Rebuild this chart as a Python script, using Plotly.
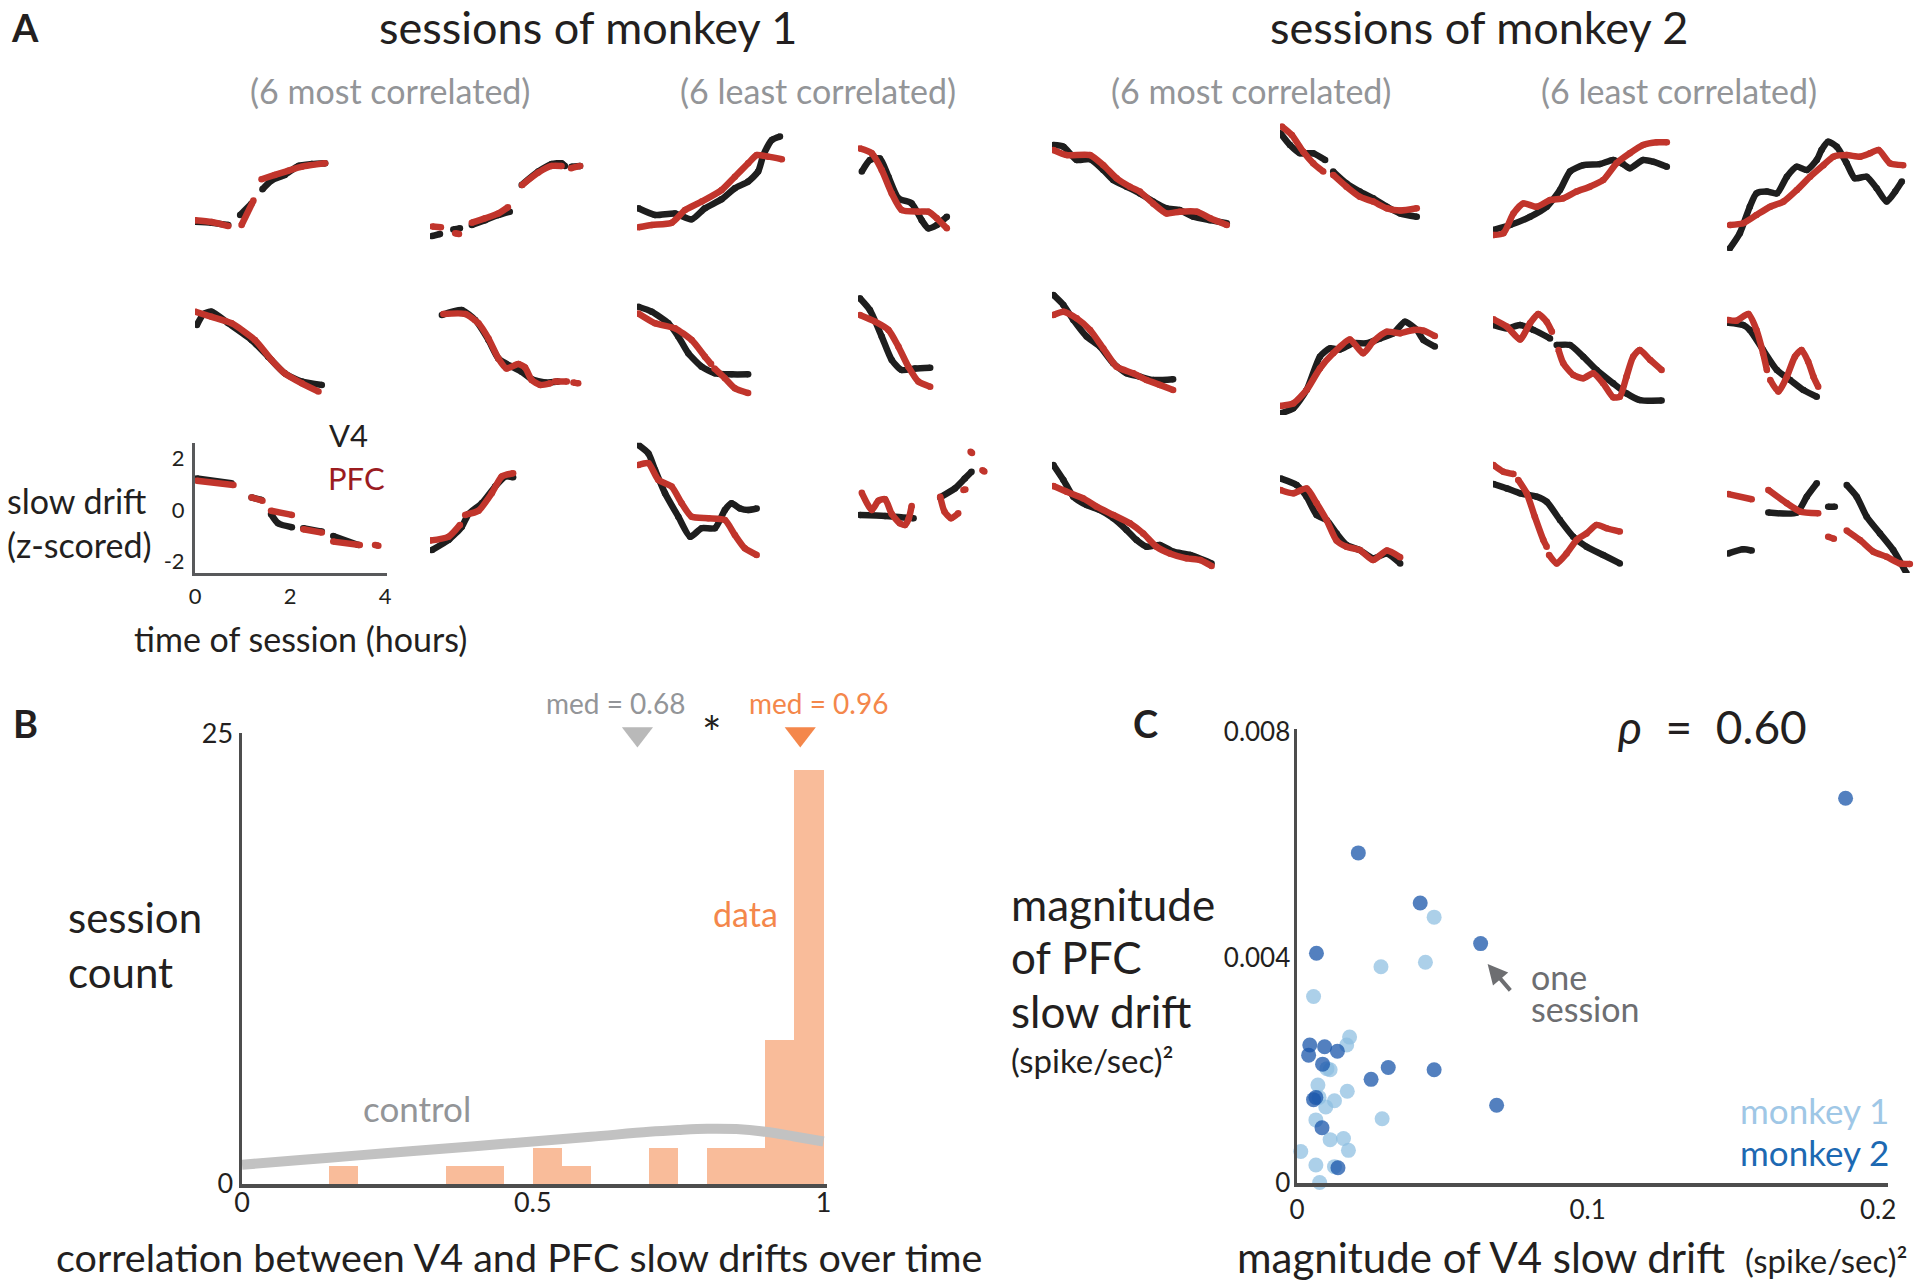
import plotly.graph_objects as go

W, H = 1920, 1283
FONT = "Lato"

# ---------------- Panel A data (time in hours, z-scored slow drift) ----------------
# row 1
a11_v4_t = [0, 0.35, 0.70, None, 0.95, 1.19, None, 1.42, 1.61, 1.89, 2.18, 2.46, 2.74]
a11_v4_z = [-1.31, -1.35, -1.44, None, -1.05, -0.60, None, -0.05, 0.29, 0.51, 0.86, 0.93, 0.96]
a11_pfc_t = [0, 0.35, 0.70, None, 0.98, 1.23, None, 1.40, 1.68, 1.96, 2.25, 2.74]
a11_pfc_z = [-1.25, -1.32, -1.48, None, -1.44, -0.49, None, 0.34, 0.51, 0.67, 0.83, 0.96]

a12_v4_t = [0.04, 0.21, None, 0.49, 0.63, None, 0.88, 1.16, 1.44, 1.68, None, 1.93, 2.28, 2.56, 2.77, 2.84, None, 2.98, 3.16]
a12_v4_z = [-1.87, -1.79, None, -1.61, -1.57, None, -1.44, -1.25, -1.05, -0.92, None, 0.12, 0.64, 0.93, 0.96, 0.86, None, 0.83, 0.86]
a12_pfc_t = [0.05, 0.23, None, 0.53, 0.61, None, 0.88, 1.16, 1.44, 1.64, None, 1.94, 2.28, 2.56, 2.77, None, 2.97, 3.16]
a12_pfc_z = [-1.50, -1.53, None, -1.76, -1.79, None, -1.35, -1.18, -0.99, -0.75, None, 0.12, 0.60, 0.86, 0.86, None, 0.77, 0.86]

a13_v4_t = [0.03, 0.38, 0.80, 1.15, 1.43, 1.78, 2.06, 2.34, 2.55, 2.66, 2.84, 3.01]
a13_v4_z = [-0.79, -1.05, -0.99, -1.22, -0.79, -0.44, -0.01, 0.25, 0.64, 1.28, 1.87, 2.00]
a13_pfc_t = [0.03, 0.31, 0.73, 1.01, 1.36, 1.78, 2.06, 2.34, 2.52, 2.76, 3.05]
a13_pfc_z = [-1.53, -1.44, -1.35, -0.86, -0.53, -0.08, 0.44, 0.96, 1.28, 1.22, 1.12]

a14_v4_t = [0.08, 0.25, 0.46, 0.64, 0.85, 1.13, 1.34, 1.48, 1.66, 1.87]
a14_v4_z = [0.64, 1.09, 1.15, 0.44, -0.40, -0.60, -1.25, -1.57, -1.44, -1.12]
a14_pfc_t = [0.04, 0.29, 0.50, 0.71, 0.92, 1.27, 1.48, 1.66, 1.87]
a14_pfc_z = [1.54, 1.35, 0.70, -0.21, -0.86, -0.92, -0.92, -1.18, -1.57]

a15_v4_t = [0.03, 0.24, 0.52, 0.80, 1.08, 1.29, 1.57, 1.85, 2.13, 2.41, 2.69, 2.98, 3.33, 3.68]
a15_v4_z = [1.67, 1.61, 1.09, 1.12, 0.70, 0.31, 0.05, -0.21, -0.53, -0.79, -0.86, -1.12, -1.25, -1.37]
a15_pfc_t = [0.03, 0.31, 0.80, 1.08, 1.36, 1.64, 1.85, 2.13, 2.41, 2.69, 3.05, 3.33, 3.68]
a15_pfc_z = [1.48, 1.28, 1.28, 0.89, 0.38, 0.05, -0.14, -0.60, -0.99, -0.92, -0.92, -1.18, -1.44]

a16_v4_t = [0.01, 0.21, 0.42, 0.70, 0.95, None, 1.12, 1.40, 1.68, 1.96, 2.25, 2.53, 2.88]
a16_v4_z = [2.13, 1.67, 1.35, 1.35, 1.09, None, 0.64, 0.18, -0.14, -0.40, -0.73, -0.99, -1.12]
a16_pfc_t = [0.04, 0.25, 0.49, 0.70, 0.91, None, 1.12, 1.40, 1.68, 1.96, 2.25, 2.53, 2.88]
a16_pfc_z = [2.39, 2.06, 1.41, 0.96, 0.64, None, 0.51, 0.05, -0.34, -0.53, -0.79, -0.88, -0.79]

a17_v4_t = [0.01, 0.36, 0.78, 1.13, 1.41, 1.62, 1.90, 2.25, 2.53, 2.74, 2.88, 3.16, 3.38, 3.66]
a17_v4_z = [-1.63, -1.44, -1.12, -0.73, -0.08, 0.64, 0.89, 0.93, 1.09, 0.93, 0.77, 1.09, 1.02, 0.83]
a17_pfc_t = [0.01, 0.22, 0.43, 0.64, 0.92, 1.20, 1.48, 1.76, 2.04, 2.32, 2.60, 2.88, 3.16, 3.45, 3.66]
a17_pfc_z = [-1.83, -1.76, -0.99, -0.60, -0.73, -0.47, -0.40, -0.14, 0.05, 0.31, 0.96, 1.35, 1.67, 1.78, 1.78]

a18_v4_t = [0.06, 0.27, 0.48, 0.62, 0.84, 1.05, 1.26, 1.47, 1.68, 1.89, 1.99, 2.13, 2.31, 2.52, 2.69, 2.94, 3.15, 3.36, 3.54, 3.68]
a18_v4_z = [-2.35, -1.76, -0.73, -0.21, -0.14, -0.21, 0.44, 0.83, 0.70, 1.09, 1.48, 1.80, 1.61, 0.96, 0.38, 0.44, -0.01, -0.53, -0.14, 0.25]
a18_pfc_t = [0.06, 0.34, 0.62, 0.91, 1.19, 1.47, 1.75, 2.03, 2.24, 2.52, 2.80, 3.01, 3.19, 3.43, 3.71]
a18_pfc_z = [-1.44, -1.37, -1.05, -0.73, -0.53, -0.08, 0.44, 0.89, 1.22, 1.28, 1.22, 1.35, 1.48, 0.96, 0.89]

# row 2
a21_v4_t = [0.04, 0.18, 0.35, 0.70, 1.19, 1.54, 1.89, 2.25, 2.67]
a21_v4_z = [1.05, 1.48, 1.57, 1.12, 0.47, -0.18, -0.83, -1.15, -1.28]
a21_pfc_t = [0, 0.35, 0.77, 1.26, 1.61, 1.89, 2.25, 2.60]
a21_pfc_z = [1.57, 1.37, 1.12, 0.47, -0.31, -0.83, -1.22, -1.54]

a22_v4_t = [0.25, 0.67, 0.95, 1.23, 1.44, 1.72, 1.93, 2.14, 2.42, 2.70]
a22_v4_z = [1.44, 1.63, 1.25, 0.47, -0.25, -0.57, -0.77, -1.06, -1.19, -1.15]
a22_pfc_t = [0.28, 0.74, 1.02, 1.23, 1.44, 1.61, 1.86, 2.00, 2.14, 2.32, 2.53, None, 2.63, 2.88, None, 3.02, 3.12]
a22_pfc_z = [1.48, 1.48, 1.12, 0.53, -0.25, -0.64, -0.47, -0.60, -1.09, -1.28, -1.22, None, -1.15, -1.15, None, -1.19, -1.22]

a23_v4_t = [0.03, 0.31, 0.66, 0.87, 1.08, 1.36, 1.64, 1.99, 2.34]
a23_v4_z = [1.76, 1.57, 1.12, 0.60, -0.05, -0.57, -0.83, -0.87, -0.87]
a23_pfc_t = [0.03, 0.38, 0.80, 1.15, 1.43, 1.56, None, 1.63, 1.85, 2.06, 2.34]
a23_pfc_z = [1.50, 1.12, 0.92, 0.47, -0.18, -0.47, None, -0.64, -1.02, -1.41, -1.60]

a24_v4_t = [0.04, 0.25, 0.50, 0.71, 0.92, 1.20, 1.52]
a24_v4_z = [2.09, 1.63, 0.60, -0.31, -0.70, -0.64, -0.61]
a24_pfc_t = [0.04, 0.36, 0.64, 0.85, 1.06, 1.27, 1.52]
a24_pfc_z = [1.44, 1.18, 0.86, 0.21, -0.57, -1.15, -1.35]

a25_v4_t = [0.03, 0.24, 0.45, 0.73, 1.01, 1.29, 1.57, 1.85, 2.13, 2.55]
a25_v4_z = [2.22, 1.83, 1.25, 0.60, 0.21, -0.44, -0.83, -0.96, -1.09, -1.06]
a25_pfc_t = [0.03, 0.24, 0.52, 0.80, 1.08, 1.36, 1.71, 1.99, 2.27, 2.55]
a25_pfc_z = [1.44, 1.57, 1.31, 0.86, 0.14, -0.57, -0.83, -1.09, -1.28, -1.48]

a26_v4_t = [0.01, 0.28, 0.56, 0.84, 1.05, 1.26, 1.54, 1.82, 2.11, 2.39, 2.63, 2.88, 3.02, 3.26]
a26_v4_z = [-2.39, -2.19, -1.48, -0.18, 0.14, 0.10, 0.34, 0.34, 0.53, 0.73, 1.18, 0.86, 0.47, 0.21]
a26_pfc_t = [0.01, 0.28, 0.56, 0.84, 1.12, 1.47, 1.75, 1.96, 2.25, 2.53, 2.81, 3.02, 3.26]
a26_pfc_z = [-2.10, -2.00, -1.48, -0.64, -0.05, 0.49, -0.05, 0.40, 0.79, 0.73, 0.86, 0.83, 0.62]

a27_v4_t = [0.01, 0.29, 0.57, 0.85, 1.20, None, 1.34, 1.62, 1.90, 2.18, 2.53, 2.81, 3.09, 3.55]
a27_v4_z = [1.05, 0.92, 1.05, 0.86, 0.53, None, 0.27, 0.27, -0.18, -0.70, -1.22, -1.61, -1.87, -1.89]
a27_pfc_t = [0.01, 0.29, 0.57, 0.78, 0.95, 1.13, 1.24, None, 1.38, 1.48, 1.69, 1.90, 2.11, 2.32, 2.53, 2.67, 2.81, 2.95, 3.09, 3.31, 3.55]
a27_pfc_z = [1.27, 0.99, 0.49, 1.12, 1.48, 1.18, 0.79, None, 0.08, -0.44, -0.89, -1.02, -0.83, -1.22, -1.76, -1.74, -0.96, -0.18, 0.08, -0.31, -0.70]

a28_v4_t = [0.03, 0.34, 0.48, 0.76, 1.05, 1.33, 1.61, 1.89]
a28_v4_z = [1.14, 1.05, 0.86, 0.08, -0.70, -1.09, -1.48, -1.74]
a28_pfc_t = [0.01, 0.20, 0.45, 0.62, 0.76, 0.84, None, 0.91, 1.08, 1.26, 1.43, 1.57, 1.71, 1.82, 1.92]
a28_pfc_z = [1.25, 1.22, 1.48, 0.86, -0.05, -0.70, None, -1.09, -1.54, -0.96, -0.18, 0.08, -0.38, -0.96, -1.35]

# row 3
a31_v4_t = [0.04, 0.77, None, 1.19, 1.40, None, 1.60, 1.75, 2.04, None, 2.28, 2.67, None, 2.91, 3.44]
a31_v4_z = [1.23, 1.04, None, 0.49, 0.39, None, -0.16, -0.52, -0.67, None, -0.71, -0.84, None, -1.01, -1.36]
a31_pfc_t = [0.04, 0.81, None, 1.19, 1.42, None, 1.60, 2.04, None, 2.28, 2.67, None, 2.91, 3.47, None, 3.79, 3.86]
a31_pfc_z = [1.14, 0.97, None, 0.49, 0.36, None, -0.03, -0.19, None, -0.75, -0.88, None, -1.23, -1.36, None, -1.36, -1.39]

a32_v4_t = [0.04, 0.39, 0.67, 0.81, 1.09, 1.37, 1.58, 1.75]
a32_v4_z = [-1.56, -1.17, -0.65, -0.16, 0.26, 0.91, 1.30, 1.27]
a32_pfc_t = [0, 0.39, 0.63, None, 0.74, 1.02, 1.30, 1.51, 1.75]
a32_pfc_z = [-1.19, -1.04, -0.58, None, -0.19, -0.03, 0.65, 1.30, 1.43]

a33_v4_t = [0.03, 0.24, 0.38, 0.59, 0.87, 1.12, 1.36, 1.64, 1.85, 1.99, 2.17, 2.34, 2.52]
a33_v4_z = [2.53, 2.20, 1.56, 0.65, -0.26, -1.04, -0.71, -0.71, 0.00, 0.26, 0.06, 0.00, 0.06]
a33_pfc_t = [0.03, 0.24, 0.45, 0.73, 0.94, 1.15, 1.50, 1.85, 2.06, 2.27, 2.52]
a33_pfc_z = [1.75, 1.82, 1.17, 0.91, 0.26, -0.26, -0.32, -0.39, -0.97, -1.49, -1.75]

a34_v4_t = [0.04, 0.57, 1.17, None, 1.73, 2.04, 2.25, 2.39]
a34_v4_z = [-0.19, -0.23, -0.32, None, 0.49, 0.84, 1.23, 1.49]
a34_pfc_t = [0.08, 0.29, 0.43, 0.57, 0.71, 0.88, 0.99, 1.07, 1.13, None, 1.73, 1.82, 1.96, 2.11, None, 2.22, 2.26, None, 2.37, 2.40, None, 2.62, 2.66]
a34_pfc_z = [0.67, 0.00, 0.36, 0.42, -0.16, -0.52, -0.58, -0.32, 0.16, None, 0.52, -0.06, -0.32, -0.13, None, 0.78, 0.80, None, 2.27, 2.22, None, 1.55, 1.50]

a35_v4_t = [0.03, 0.24, 0.45, 0.73, 1.01, 1.29, 1.57, 1.78, 1.99, 2.27, 2.55, 2.91, 3.36]
a35_v4_z = [1.75, 1.17, 0.52, 0.19, 0.00, -0.32, -0.78, -1.17, -1.43, -1.36, -1.62, -1.75, -2.08]
a35_pfc_t = [0.03, 0.31, 0.66, 0.94, 1.29, 1.64, 1.92, 2.20, 2.48, 2.83, 3.12, 3.36]
a35_pfc_z = [0.93, 0.71, 0.45, 0.13, -0.19, -0.52, -0.91, -1.43, -1.69, -1.88, -1.95, -2.18]

a36_v4_t = [0.01, 0.35, 0.56, 0.77, 0.98, 1.19, 1.40, 1.68, 1.96, 2.25, 2.53]
a36_v4_z = [1.23, 0.97, 0.52, -0.19, -0.39, -0.91, -1.36, -1.56, -1.88, -1.69, -2.08]
a36_pfc_t = [0.01, 0.28, 0.56, 0.77, 0.98, 1.19, 1.40, 1.68, 1.96, 2.25, 2.53]
a36_pfc_z = [0.78, 0.65, 0.84, 0.26, -0.39, -1.19, -1.43, -1.56, -1.95, -1.58, -1.84]

a37_v4_t = [0.01, 0.29, 0.57, 0.92, 1.13, 1.41, 1.69, 1.97, 2.32, 2.67]
a37_v4_z = [1.01, 0.84, 0.65, 0.52, 0.32, -0.39, -1.04, -1.43, -1.75, -2.08]
a37_pfc_t = [0.01, 0.22, 0.43, None, 0.53, 0.71, 0.88, 1.06, 1.13, None, 1.18, 1.34, 1.55, 1.76, 1.97, 2.18, 2.39, 2.67]
a37_pfc_z = [1.75, 1.49, 1.40, None, 1.17, 0.65, -0.26, -1.17, -1.43, None, -1.75, -2.08, -1.69, -1.17, -0.91, -0.58, -0.71, -0.84]

a38_v4_t = [0.03, 0.34, 0.52, None, 0.87, 1.47, 1.68, 1.89, None, 2.13, 2.27, None, 2.52, 2.73, 2.94, 3.22, 3.50, 3.78]
a38_v4_z = [-1.69, -1.53, -1.58, None, -0.10, -0.10, 0.52, 1.04, None, 0.13, 0.13, None, 0.97, 0.52, -0.26, -0.91, -1.56, -2.46]
a38_pfc_t = [0.03, 0.52, None, 0.87, 1.26, 1.54, 1.92, None, 2.13, 2.25, None, 2.52, 2.80, 3.08, 3.36, 3.64, 3.85]
a38_pfc_z = [0.62, 0.42, None, 0.78, 0.26, -0.06, -0.13, None, -1.04, -1.12, None, -0.80, -1.17, -1.62, -1.82, -2.08, -2.10]

# ---------------- Panel B data ----------------
hist_bin_centers = [0.175, 0.375, 0.425, 0.525, 0.575, 0.725, 0.825, 0.875, 0.925, 0.975]
hist_counts = [1, 1, 1, 2, 1, 2, 2, 2, 8, 23]
hist_bin_width = 0.05
control_x = [0, 0.1, 0.2, 0.3, 0.4, 0.5, 0.6, 0.7, 0.75, 0.8, 0.85, 0.9, 0.95, 1.0]
control_y = [1.07, 1.33, 1.59, 1.85, 2.10, 2.36, 2.62, 2.90, 3.00, 3.07, 3.05, 2.90, 2.64, 2.36]
median_control = 0.68
median_data = 0.96

# ---------------- Panel C data ----------------
m1_v4 = [0.0472, 0.0289, 0.0442, 0.0057, 0.0181, 0.0171, 0.0114, 0.0103, 0.0072, 0.0173, 0.0076,
         0.0129, 0.0099, 0.0065, 0.0293, 0.0114, 0.0160, 0.0177, 0.0013, 0.0065, 0.0129, 0.0078]
m1_pfc = [0.00472, 0.00384, 0.00392, 0.00331, 0.00259, 0.00245, 0.00201, 0.00203, 0.00174, 0.00163, 0.00152,
          0.00146, 0.00135, 0.00112, 0.00114, 0.00077, 0.00079, 0.00058, 0.00056, 0.00032, 0.00029, 0.00001]
m2_v4 = [0.1888, 0.0211, 0.0424, 0.0632, 0.0067, 0.0044, 0.0095, 0.0139, 0.0040, 0.0088,
         0.0314, 0.0472, 0.0255, 0.0057, 0.0065, 0.0086, 0.0687, 0.0141]
m2_pfc = [0.00683, 0.00586, 0.00497, 0.00425, 0.00408, 0.00245, 0.00242, 0.00234, 0.00227, 0.00211,
          0.00205, 0.00201, 0.00184, 0.00148, 0.00152, 0.00098, 0.00138, 0.00027]

# ---------------- styling / layout constants ----------------
BLACK = "#1e1e1e"
RED = "#c1352c"
TXT = "#231f20"
GRAY_TXT = "#939598"
ORANGE = "#f4874b"
BAR = "#f9bc9a"

COL_X0 = [195, 430, 637, 858, 1052, 1280, 1493, 1727]
ROW_Z0 = [188, 352, 510]
PX_PER_HOUR = 47.5
PX_PER_Z = 25.7
T_RANGE = [0, 4.05]
Z_RANGE = [-2.45, 2.62]

grid = [
    [(a11_v4_t, a11_v4_z, a11_pfc_t, a11_pfc_z), (a12_v4_t, a12_v4_z, a12_pfc_t, a12_pfc_z),
     (a13_v4_t, a13_v4_z, a13_pfc_t, a13_pfc_z), (a14_v4_t, a14_v4_z, a14_pfc_t, a14_pfc_z),
     (a15_v4_t, a15_v4_z, a15_pfc_t, a15_pfc_z), (a16_v4_t, a16_v4_z, a16_pfc_t, a16_pfc_z),
     (a17_v4_t, a17_v4_z, a17_pfc_t, a17_pfc_z), (a18_v4_t, a18_v4_z, a18_pfc_t, a18_pfc_z)],
    [(a21_v4_t, a21_v4_z, a21_pfc_t, a21_pfc_z), (a22_v4_t, a22_v4_z, a22_pfc_t, a22_pfc_z),
     (a23_v4_t, a23_v4_z, a23_pfc_t, a23_pfc_z), (a24_v4_t, a24_v4_z, a24_pfc_t, a24_pfc_z),
     (a25_v4_t, a25_v4_z, a25_pfc_t, a25_pfc_z), (a26_v4_t, a26_v4_z, a26_pfc_t, a26_pfc_z),
     (a27_v4_t, a27_v4_z, a27_pfc_t, a27_pfc_z), (a28_v4_t, a28_v4_z, a28_pfc_t, a28_pfc_z)],
    [(a31_v4_t, a31_v4_z, a31_pfc_t, a31_pfc_z), (a32_v4_t, a32_v4_z, a32_pfc_t, a32_pfc_z),
     (a33_v4_t, a33_v4_z, a33_pfc_t, a33_pfc_z), (a34_v4_t, a34_v4_z, a34_pfc_t, a34_pfc_z),
     (a35_v4_t, a35_v4_z, a35_pfc_t, a35_pfc_z), (a36_v4_t, a36_v4_z, a36_pfc_t, a36_pfc_z),
     (a37_v4_t, a37_v4_z, a37_pfc_t, a37_pfc_z), (a38_v4_t, a38_v4_z, a38_pfc_t, a38_pfc_z)],
]


def fx(px):
    return px / W


def fy(py):
    return 1 - py / H


fig = go.Figure()
axes = {}

k = 0
for r in range(3):
    for c in range(8):
        k += 1
        v4_t, v4_z, pfc_t, pfc_z = grid[r][c]
        xn = "x" if k == 1 else f"x{k}"
        yn = "y" if k == 1 else f"y{k}"
        xk = "xaxis" if k == 1 else f"xaxis{k}"
        yk = "yaxis" if k == 1 else f"yaxis{k}"
        x0 = COL_X0[c]
        x1 = x0 + (T_RANGE[1] - T_RANGE[0]) * PX_PER_HOUR
        ytop = ROW_Z0[r] - Z_RANGE[1] * PX_PER_Z
        ybot = ROW_Z0[r] - Z_RANGE[0] * PX_PER_Z
        example = (r == 2 and c == 0)
        axes[xk] = dict(domain=[fx(x0), fx(x1)], range=T_RANGE, anchor=yn, automargin=False,
                        showgrid=False, zeroline=False, fixedrange=True)
        axes[yk] = dict(domain=[fy(ybot), fy(ytop)], range=Z_RANGE, anchor=xn, automargin=False,
                        showgrid=False, zeroline=False, fixedrange=True)
        if example:
            axes[xk].update(showline=True, linecolor="#58595b", linewidth=3,
                            tickvals=[0, 2, 4], ticktext=["0", "2", "4"], ticks="",
                            tickfont=dict(family=FONT, size=22, color=TXT), ticklabelstandoff=2)
            axes[yk].update(showline=True, linecolor="#58595b", linewidth=3,
                            tickvals=[-2, 0, 2], ticktext=["-2", "0", "2"], ticks="",
                            tickfont=dict(family=FONT, size=22, color=TXT), ticklabelstandoff=3)
        else:
            axes[xk].update(visible=False)
            axes[yk].update(visible=False)
        fig.add_trace(go.Scatter(x=v4_t, y=v4_z, xaxis=xn, yaxis=yn, mode="lines+markers",
                                 line=dict(color=BLACK, width=6.5, shape="spline", smoothing=0.6),
                                 marker=dict(color=BLACK, size=6.5, line=dict(width=0)),
                                 connectgaps=False, hoverinfo="skip"))
        fig.add_trace(go.Scatter(x=pfc_t, y=pfc_z, xaxis=xn, yaxis=yn, mode="lines+markers",
                                 line=dict(color=RED, width=6.5, shape="spline", smoothing=0.6),
                                 marker=dict(color=RED, size=6.5, line=dict(width=0)),
                                 connectgaps=False, hoverinfo="skip"))

# ---------------- Panel B ----------------
kb = 25
axes[f"xaxis{kb}"] = dict(domain=[fx(242), fx(827)], range=[0, 1.006], anchor=f"y{kb}", automargin=False,
                          showline=True, linecolor="#4d4d4d", linewidth=3.5, showgrid=False, zeroline=False,
                          tickvals=[0, 0.5, 1], ticktext=["0", "0.5", "1"], ticks="",
                          tickfont=dict(family=FONT, size=27, color=TXT), ticklabelstandoff=-8)
axes[f"yaxis{kb}"] = dict(domain=[fy(1184), fy(733)], range=[0, 25.05], anchor=f"x{kb}", automargin=False,
                          showline=True, linecolor="#4d4d4d", linewidth=3.5, showgrid=False, zeroline=False,
                          tickvals=[0, 25], ticktext=["0", "25"], ticks="",
                          tickfont=dict(family=FONT, size=27, color=TXT), ticklabelstandoff=0)
fig.add_trace(go.Bar(x=hist_bin_centers, y=hist_counts, width=hist_bin_width,
                     marker=dict(color=BAR, line=dict(width=0)), xaxis=f"x{kb}", yaxis=f"y{kb}",
                     hoverinfo="skip"))
fig.add_trace(go.Scatter(x=control_x, y=control_y, mode="lines", xaxis=f"x{kb}", yaxis=f"y{kb}",
                         line=dict(color="#c2c2c2", width=10, shape="spline"), hoverinfo="skip"))
fig.add_trace(go.Scatter(x=[median_control, median_data], y=[25.0, 25.0], mode="markers",
                         xaxis=f"x{kb}", yaxis=f"y{kb}",
                         marker=dict(symbol="triangle-down", size=27, color=["#b9b9b9", ORANGE]),
                         cliponaxis=False, hoverinfo="skip"))

# ---------------- Panel C ----------------
kc = 26
axes[f"xaxis{kc}"] = dict(domain=[fx(1297), fx(1888)], range=[0, 0.2034], anchor=f"y{kc}", automargin=False,
                          showline=True, linecolor="#4d4d4d", linewidth=3.5, showgrid=False, zeroline=False,
                          tickvals=[0, 0.1, 0.2], ticktext=["0", "0.1", "0.2"], ticks="",
                          tickfont=dict(family=FONT, size=26, color=TXT), ticklabelstandoff=1)
axes[f"yaxis{kc}"] = dict(domain=[fy(1183), fy(729)], range=[0, 0.00806], anchor=f"x{kc}", automargin=False,
                          showline=True, linecolor="#4d4d4d", linewidth=3.5, showgrid=False, zeroline=False,
                          tickvals=[0, 0.004, 0.008], ticktext=["0", "0.004", "0.008"], ticks="",
                          tickfont=dict(family=FONT, size=26, color=TXT), ticklabelstandoff=-2)
fig.add_trace(go.Scatter(x=m1_v4, y=m1_pfc, mode="markers", xaxis=f"x{kc}", yaxis=f"y{kc}",
                         marker=dict(size=15, color="rgba(140,190,225,0.72)", line=dict(width=0)),
                         cliponaxis=False, hoverinfo="skip"))
fig.add_trace(go.Scatter(x=m2_v4, y=m2_pfc, mode="markers", xaxis=f"x{kc}", yaxis=f"y{kc}",
                         marker=dict(size=15, color="rgba(25,85,170,0.75)", line=dict(width=0)),
                         cliponaxis=False, hoverinfo="skip"))

# ---------------- Text ----------------
annotations = []


def ann(text, x, y, size, color=TXT, xanchor="center", yanchor="middle", bold=False):
    if bold:
        text = f"<b>{text}</b>"
    annotations.append(dict(text=text, x=fx(x), y=fy(y), xref="paper", yref="paper",
                            xanchor=xanchor, yanchor=yanchor, showarrow=False,
                            font=dict(family=FONT, size=size, color=color)))


# panel letters
ann("A", 25, 27, 38, TXT, bold=True)
ann("B", 25, 723, 38, TXT, bold=True)
ann("C", 1145, 723, 38, TXT, bold=True)

# panel A titles
ann("sessions of monkey 1", 588, 27, 45)
ann("sessions of monkey 2", 1479, 27, 45)
ann("(6 most correlated)", 390, 90, 34, GRAY_TXT)
ann("(6 least correlated)", 818, 90, 34, GRAY_TXT)
ann("(6 most correlated)", 1251, 90, 34, GRAY_TXT)
ann("(6 least correlated)", 1679, 90, 34, GRAY_TXT)
ann("V4", 327, 435, 31, TXT, xanchor="left")
ann("PFC", 326, 478, 31, "#9b1c1f", xanchor="left")
ann("slow drift", 5, 500, 34, TXT, xanchor="left")
ann("(z-scored)", 5, 544, 34, TXT, xanchor="left")
ann("time of session (hours)", 300, 638, 34)

# panel B text
ann("session", 66, 917, 42, TXT, xanchor="left")
ann("count", 66, 972, 42, TXT, xanchor="left")
ann("correlation between V4 and PFC slow drifts over time", 519, 1256, 39.5)
ann("med = 0.68", 615, 703, 28, GRAY_TXT)
ann("med = 0.96", 818, 703, 28, ORANGE)
ann("*", 712, 732, 46, TXT)
ann("data", 745, 913, 34, ORANGE)
ann("control", 417, 1108, 35, GRAY_TXT)

# panel C text
ann("<i>ρ</i>  =  0.60", 1712, 727, 46, TXT)
ann("magnitude", 1009, 904, 44, TXT, xanchor="left")
ann("of PFC", 1009, 957, 44, TXT, xanchor="left")
ann("slow drift", 1009, 1011, 44, TXT, xanchor="left")
ann("(spike/sec)²", 1009, 1060, 33, TXT, xanchor="left")
ann("magnitude of V4 slow drift", 1235, 1257, 42, TXT, xanchor="left")
ann("(spike/sec)²", 1743, 1260, 33, TXT, xanchor="left")
ann("one", 1529, 976, 34, "#6d6e71", xanchor="left")
ann("session", 1529, 1008, 34, "#6d6e71", xanchor="left")
ann("monkey 1", 1891, 1110, 35, "#9fc7e6", xanchor="right")
ann("monkey 2", 1891, 1152, 35, "#1d69b2", xanchor="right")

# arrow pointing to one session
annotations.append(dict(x=0.0656, y=0.00389, xref=f"x{kc}", yref=f"y{kc}", ax=24, ay=28,
                        axref="pixel", ayref="pixel", text="", showarrow=True,
                        arrowhead=2, arrowsize=1.0, arrowwidth=4, arrowcolor="#6d6e71"))

fig.update_layout(
    template="none",
    width=W, height=H, margin=dict(l=0, r=0, t=0, b=0, pad=0, autoexpand=False),
    paper_bgcolor="white", plot_bgcolor="rgba(0,0,0,0)",
    showlegend=False, bargap=0, annotations=annotations,
    font=dict(family=FONT, color=TXT),
    **axes,
)

fig.write_html(
    "out.html",
    config={"displayModeBar": False, "staticPlot": True},
    post_script="document.body.style.margin='0px';document.body.style.padding='0px';"
                "document.documentElement.style.overflow='hidden';",
)
